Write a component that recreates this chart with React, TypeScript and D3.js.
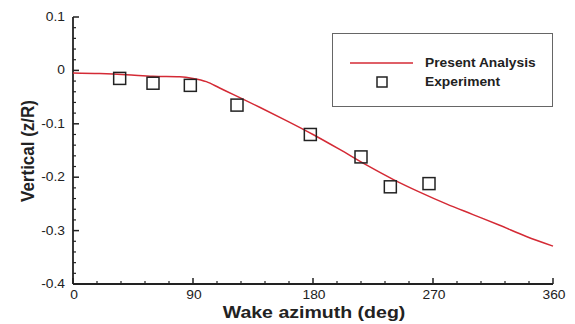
import React, { useEffect, useRef } from "react";
import * as d3 from "d3";

// Present analysis curve (wake azimuth deg, z/R)
const analysisAzimuth = [0, 20, 40, 60, 80, 90, 100, 110, 120, 140, 160, 180, 200, 220, 240, 260, 280, 300, 320, 340, 360];
const analysisZ = [-0.005, -0.006, -0.008, -0.011, -0.012, -0.015, -0.021, -0.033, -0.045, -0.069, -0.094, -0.12, -0.148, -0.177, -0.204, -0.228, -0.25, -0.27, -0.29, -0.311, -0.329];

// Experiment points
const expAzimuth = [35, 60, 88, 123, 178, 216, 238, 267];
const expZ = [-0.015, -0.024, -0.028, -0.065, -0.12, -0.162, -0.218, -0.212];

const xTicks = [0, 90, 180, 270, 360];
const yTicks = [0.1, 0, -0.1, -0.2, -0.3, -0.4];

const FONT = "Liberation Sans, Arial, sans-serif";
const SX = 1.15; // horizontal stretch of the original image text

export default function App() {
  const ref = useRef<SVGSVGElement>(null);

  useEffect(() => {
    const svg = d3.select(ref.current);
    svg.selectAll("*").remove();

    const x = d3.scaleLinear().domain([0, 360]).range([73, 553]);
    const y = d3.scaleLinear().domain([-0.4, 0.1]).range([284, 17]);

    const g = svg.append("g");

    const stretched = (tx: number, ty: number) => `translate(${tx},${ty}) scale(${SX},1)`;

    // minor ticks
    const xMinor = d3.range(0, 361, 18).filter((v) => v % 90 !== 0);
    const yMinor = d3.range(-0.4, 0.1001, 0.02).filter((v) => Math.abs(Math.round(v * 10) - v * 10) > 1e-6);

    g.selectAll("line.xminor")
      .data(xMinor)
      .enter()
      .append("line")
      .attr("x1", (d) => x(d))
      .attr("x2", (d) => x(d))
      .attr("y1", y(-0.4))
      .attr("y2", y(-0.4) - 3)
      .attr("stroke", "#222")
      .attr("stroke-width", 1.2);

    g.selectAll("line.yminor")
      .data(yMinor)
      .enter()
      .append("line")
      .attr("x1", x(0))
      .attr("x2", x(0) + 3)
      .attr("y1", (d) => y(d))
      .attr("y2", (d) => y(d))
      .attr("stroke", "#222")
      .attr("stroke-width", 1.2);

    // major ticks
    g.selectAll("line.xmajor")
      .data(xTicks)
      .enter()
      .append("line")
      .attr("x1", (d) => x(d))
      .attr("x2", (d) => x(d))
      .attr("y1", y(-0.4))
      .attr("y2", y(-0.4) - 6)
      .attr("stroke", "#222")
      .attr("stroke-width", 1.5);

    g.selectAll("line.ymajor")
      .data(yTicks)
      .enter()
      .append("line")
      .attr("x1", x(0))
      .attr("x2", x(0) + 6)
      .attr("y1", (d) => y(d))
      .attr("y2", (d) => y(d))
      .attr("stroke", "#222")
      .attr("stroke-width", 1.5);

    // axis lines
    g.append("line")
      .attr("x1", x(0))
      .attr("x2", x(360))
      .attr("y1", y(-0.4))
      .attr("y2", y(-0.4))
      .attr("stroke", "#222")
      .attr("stroke-width", 1.8);
    g.append("line")
      .attr("x1", x(0))
      .attr("x2", x(0))
      .attr("y1", y(-0.4))
      .attr("y2", y(0.1))
      .attr("stroke", "#222")
      .attr("stroke-width", 1.8);

    // tick labels
    g.selectAll("text.xl")
      .data(xTicks)
      .enter()
      .append("text")
      .attr("transform", (d) => stretched(x(d) + 1, 299))
      .attr("text-anchor", "middle")
      .attr("font-family", FONT)
      .attr("font-size", 12)
      .attr("fill", "#222")
      .text((d) => String(d));

    g.selectAll("text.yl")
      .data(yTicks)
      .enter()
      .append("text")
      .attr("transform", (d) => stretched(65, y(d) + 4))
      .attr("text-anchor", "end")
      .attr("font-family", FONT)
      .attr("font-size", 12)
      .attr("fill", "#222")
      .text((d) => (d === 0 ? "0" : d.toFixed(1)));

    // axis titles
    g.append("text")
      .attr("transform", stretched(314, 318))
      .attr("text-anchor", "middle")
      .attr("font-family", FONT)
      .attr("font-weight", "bold")
      .attr("font-size", 17)
      .attr("fill", "#222")
      .text("Wake azimuth (deg)");

    g.append("text")
      .attr("transform", "translate(34,151) scale(1.12,1) rotate(-90)")
      .attr("text-anchor", "middle")
      .attr("font-family", FONT)
      .attr("font-weight", "bold")
      .attr("font-size", 17)
      .attr("fill", "#222")
      .text("Vertical (z/R)");

    // analysis line
    const lineData = analysisAzimuth.map((a, i) => [a, analysisZ[i]] as [number, number]);
    const line = d3
      .line<[number, number]>()
      .x((d) => x(d[0]))
      .y((d) => y(d[1]))
      .curve(d3.curveMonotoneX);
    g.append("path")
      .attr("d", line(lineData) as string)
      .attr("fill", "none")
      .attr("stroke", "#d42a35")
      .attr("stroke-width", 1.5);

    // experiment squares
    const s = 12;
    g.selectAll("rect.exp")
      .data(expAzimuth.map((a, i) => [a, expZ[i]]))
      .enter()
      .append("rect")
      .attr("x", (d) => x(d[0]) - s / 2)
      .attr("y", (d) => y(d[1]) - s / 2)
      .attr("width", s)
      .attr("height", s)
      .attr("fill", "none")
      .attr("stroke", "#222")
      .attr("stroke-width", 1.5);

    // legend
    const lg = g.append("g");
    lg.append("rect")
      .attr("x", 332.5)
      .attr("y", 33.5)
      .attr("width", 220)
      .attr("height", 73)
      .attr("fill", "white")
      .attr("stroke", "#666")
      .attr("stroke-width", 1);
    lg.append("line")
      .attr("x1", 350)
      .attr("x2", 413)
      .attr("y1", 63)
      .attr("y2", 63)
      .attr("stroke", "#d42a35")
      .attr("stroke-width", 1.3);
    lg.append("rect")
      .attr("x", 377)
      .attr("y", 77)
      .attr("width", 10)
      .attr("height", 10)
      .attr("fill", "none")
      .attr("stroke", "#222")
      .attr("stroke-width", 1.5);
    lg.append("text")
      .attr("transform", stretched(425, 67))
      .attr("font-family", FONT)
      .attr("font-weight", "bold")
      .attr("font-size", 12)
      .attr("fill", "#222")
      .text("Present Analysis");
    lg.append("text")
      .attr("transform", stretched(425, 86))
      .attr("font-family", FONT)
      .attr("font-weight", "bold")
      .attr("font-size", 12)
      .attr("fill", "#222")
      .text("Experiment");
  }, []);

  return (
    <svg
      ref={ref}
      width={575}
      height={324}
      style={{ position: "absolute", left: 0, top: 0, background: "white" }}
    />
  );
}
